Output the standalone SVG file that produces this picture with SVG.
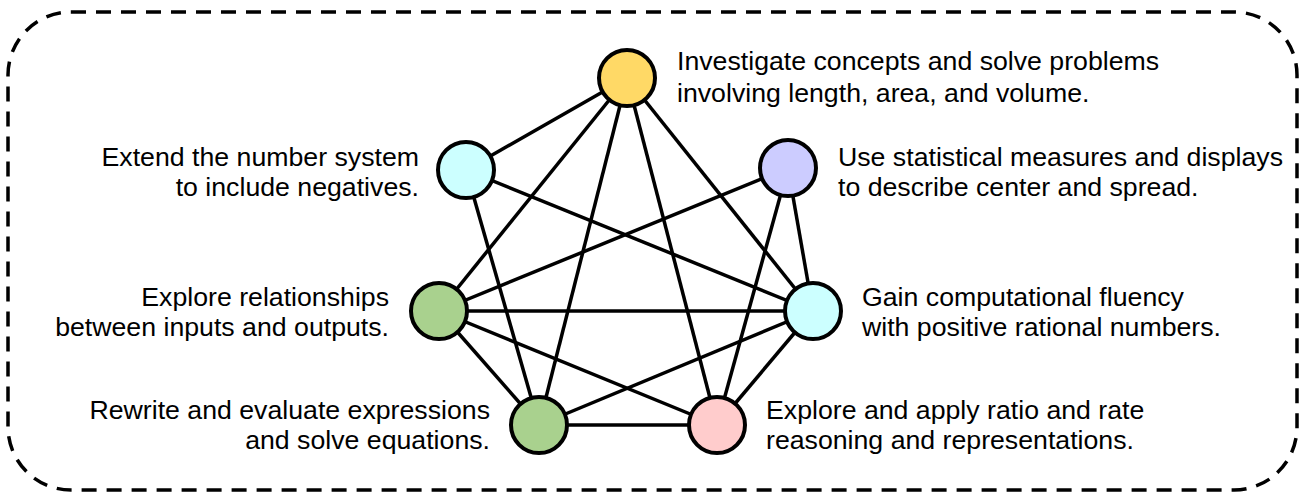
<svg xmlns="http://www.w3.org/2000/svg" width="1304" height="495" viewBox="0 0 1304 495">
<style>
.node{stroke:#000;stroke-width:4}
.edge{stroke:#000;stroke-width:3.5;fill:none}
text{font-family:"Liberation Sans",Arial,sans-serif;font-size:26.7px;fill:#000}
.r{text-anchor:end}
</style>
<rect x="8" y="12" width="1289" height="478" rx="63" ry="63" fill="none" stroke="#000" stroke-width="3.5" stroke-dasharray="15 10"/>
<g id="connectors">
<line class="edge" x1="627" y1="78" x2="466" y2="170"/>
<line class="edge" x1="627" y1="78" x2="439" y2="311"/>
<line class="edge" x1="627" y1="78" x2="539" y2="425"/>
<line class="edge" x1="627" y1="78" x2="717" y2="425"/>
<line class="edge" x1="627" y1="78" x2="813" y2="311"/>
<line class="edge" x1="466" y1="170" x2="813" y2="311"/>
<line class="edge" x1="466" y1="170" x2="539" y2="425"/>
<line class="edge" x1="788" y1="168" x2="439" y2="311"/>
<line class="edge" x1="788" y1="168" x2="717" y2="425"/>
<line class="edge" x1="788" y1="168" x2="813" y2="311"/>
<line class="edge" x1="439" y1="311" x2="813" y2="311"/>
<line class="edge" x1="439" y1="311" x2="717" y2="425"/>
<line class="edge" x1="439" y1="311" x2="539" y2="425"/>
<line class="edge" x1="539" y1="425" x2="813" y2="311"/>
<line class="edge" x1="539" y1="425" x2="717" y2="425"/>
<line class="edge" x1="717" y1="425" x2="813" y2="311"/>
</g>
<g id="n-area">
<circle class="node" cx="627" cy="78" r="28" fill="#FFD966"/>
<text x="677" y="70">Investigate concepts and solve problems</text>
<text x="677" y="102">involving length, area, and volume.</text>
</g>
<g id="n-negatives">
<circle class="node" cx="466" cy="170" r="28" fill="#CCFFFF"/>
<text class="r" x="419" y="166">Extend the number system</text>
<text class="r" x="419" y="196">to include negatives.</text>
</g>
<g id="n-statistics">
<circle class="node" cx="788" cy="168" r="28" fill="#CCCCFF"/>
<text x="838" y="166">Use statistical measures and displays</text>
<text x="838" y="196">to describe center and spread.</text>
</g>
<g id="n-relationships">
<circle class="node" cx="439" cy="311" r="28" fill="#A9D18E"/>
<text class="r" x="389" y="306">Explore relationships</text>
<text class="r" x="389" y="336">between inputs and outputs.</text>
</g>
<g id="n-fluency">
<circle class="node" cx="813" cy="311" r="28" fill="#CCFFFF"/>
<text x="862" y="306">Gain computational fluency</text>
<text x="862" y="336">with positive rational numbers.</text>
</g>
<g id="n-expressions">
<circle class="node" cx="539" cy="425" r="28" fill="#A9D18E"/>
<text class="r" x="490" y="419">Rewrite and evaluate expressions</text>
<text class="r" x="490" y="449">and solve equations.</text>
</g>
<g id="n-ratio">
<circle class="node" cx="717" cy="425" r="28" fill="#FFCCCC"/>
<text x="766" y="419">Explore and apply ratio and rate</text>
<text x="766" y="449">reasoning and representations.</text>
</g>
</svg>
